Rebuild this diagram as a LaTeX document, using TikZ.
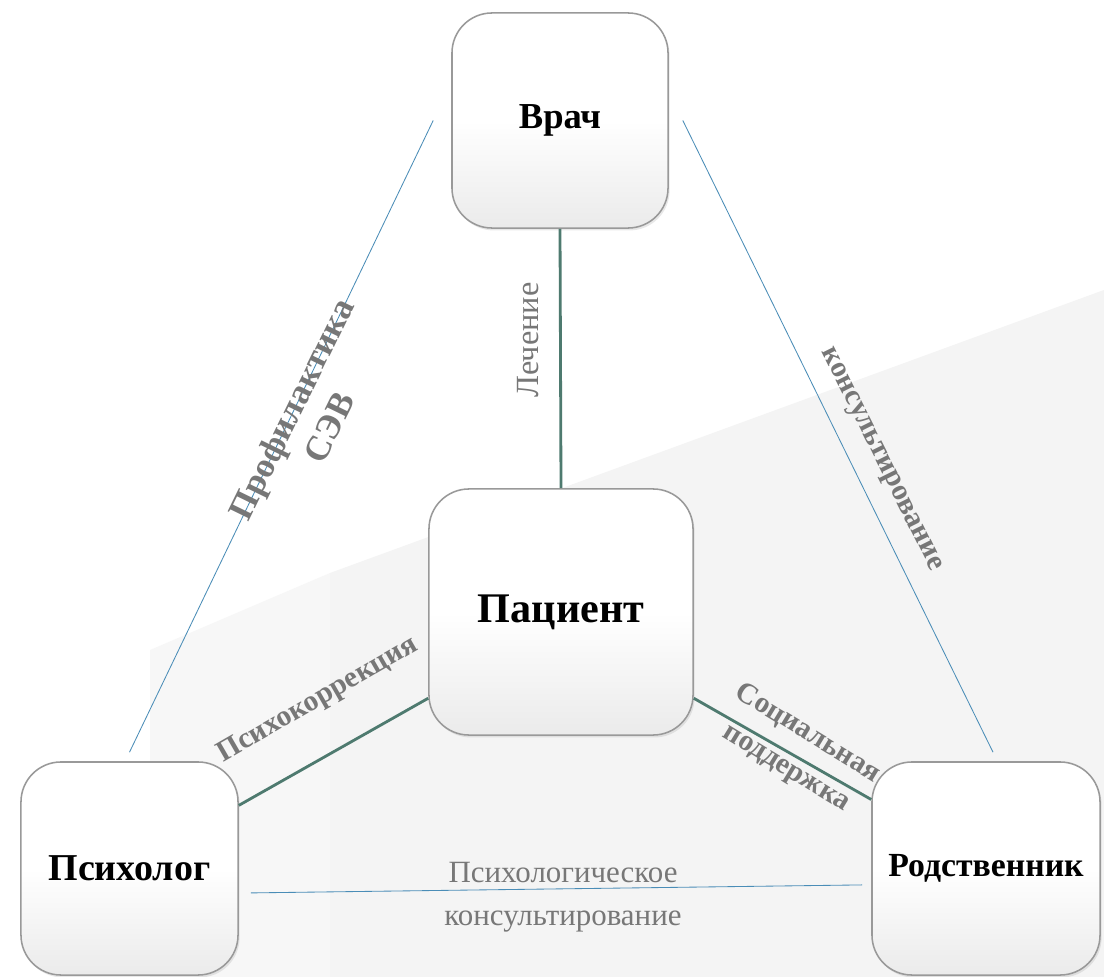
\documentclass[tikz,border=0pt]{standalone}
\usepackage{fontspec}
\setmainfont{Liberation Serif}
\usetikzlibrary{shadows}
\definecolor{linkgreen}{HTML}{4E7A6F}
\definecolor{linkblue}{HTML}{4A8DB7}
\definecolor{labelgray}{HTML}{777777}
\definecolor{bggray}{HTML}{F2F2F2}

\begin{document}
\begin{tikzpicture}[x=0.025cm,y=-0.025cm,
 role/.style={rounded corners=1cm,draw=black!40,line width=1.1pt,top color=white,bottom color=black!8,middle color=white,align=center,inner sep=2pt,font=\bfseries\fontsize{26}{30}\selectfont,drop shadow={opacity=0.18,shadow xshift=0.04cm,shadow yshift=-0.06cm}},
 lbl/.style={text=labelgray,align=center,inner sep=0pt,font=\bfseries\fontsize{21}{26}\selectfont},
 lblplain/.style={text=labelgray,align=center,inner sep=0pt,font=\fontsize{22}{31}\selectfont},
 thicklink/.style={draw=linkgreen,line width=2pt},
 thinlink/.style={draw=linkblue,line width=0.6pt}]
\fill[white] (0,0) rectangle (1104,977);
\useasboundingbox (0,0) rectangle (1104,977);
\fill[bggray!60] (150,977) -- (150,650) -- (330,573) -- (330,977) -- cycle;
\fill[bggray!85] (330,977) -- (330,573) -- (1104,290) -- (1104,977) -- cycle;

\node[role,minimum width=5.4cm,minimum height=5.375cm] (vrach) at (560,120.5) {Врач};
\node[role,minimum width=6.6cm,minimum height=6.15cm,font=\bfseries\fontsize{30}{34}\selectfont] (pacient) at (561,612) {Пациент};
\node[role,minimum width=5.425cm,minimum height=5.325cm,font=\bfseries\fontsize{27}{30}\selectfont] (psych) at (129.5,868.5) {Психолог};
\node[role,minimum width=5.7cm,minimum height=5.325cm,font=\bfseries\fontsize{24}{28}\selectfont] (rodst) at (986,868.5) {Родственник};

\draw[thicklink] (vrach.south) -- (pacient.north);
\draw[thicklink] (pacient.213) -- (psych.30);
\draw[thicklink] (pacient.-33) -- (rodst.149);
\draw[thinlink] ([xshift=-0.45cm]vrach.west) -- ([yshift=0.225cm]psych.north);
\draw[thinlink] ([xshift=0.35cm]vrach.east) -- ([shift={(0.175cm,0.225cm)}]rodst.north);
\draw[thinlink] ([shift={(0.3cm,-0.61cm)}]psych.east) -- ([shift={(-0.225cm,-0.41cm)}]rodst.west);

\node[lblplain,rotate=90,font=\fontsize{23}{26}\selectfont] (lech) at (528,340) {Лечение};
\node[lbl,rotate=64,font=\bfseries\fontsize{25}{30}\selectfont] (prof) at (310,418) {Профилактика\\СЭВ};
\node[lbl,rotate=-63.5] (kons) at (880,460) {консультирование};
\node[lbl,rotate=30] (psikor) at (318,700) {Психокоррекция};
\node[lbl,rotate=-31.5,font=\bfseries\fontsize{21}{29}\selectfont] (soc) at (797,751) {Социальная\\поддержка};
\node[lblplain] (psikons) at (563,897) {Психологическое\\консультирование};
\end{tikzpicture}
\end{document}
